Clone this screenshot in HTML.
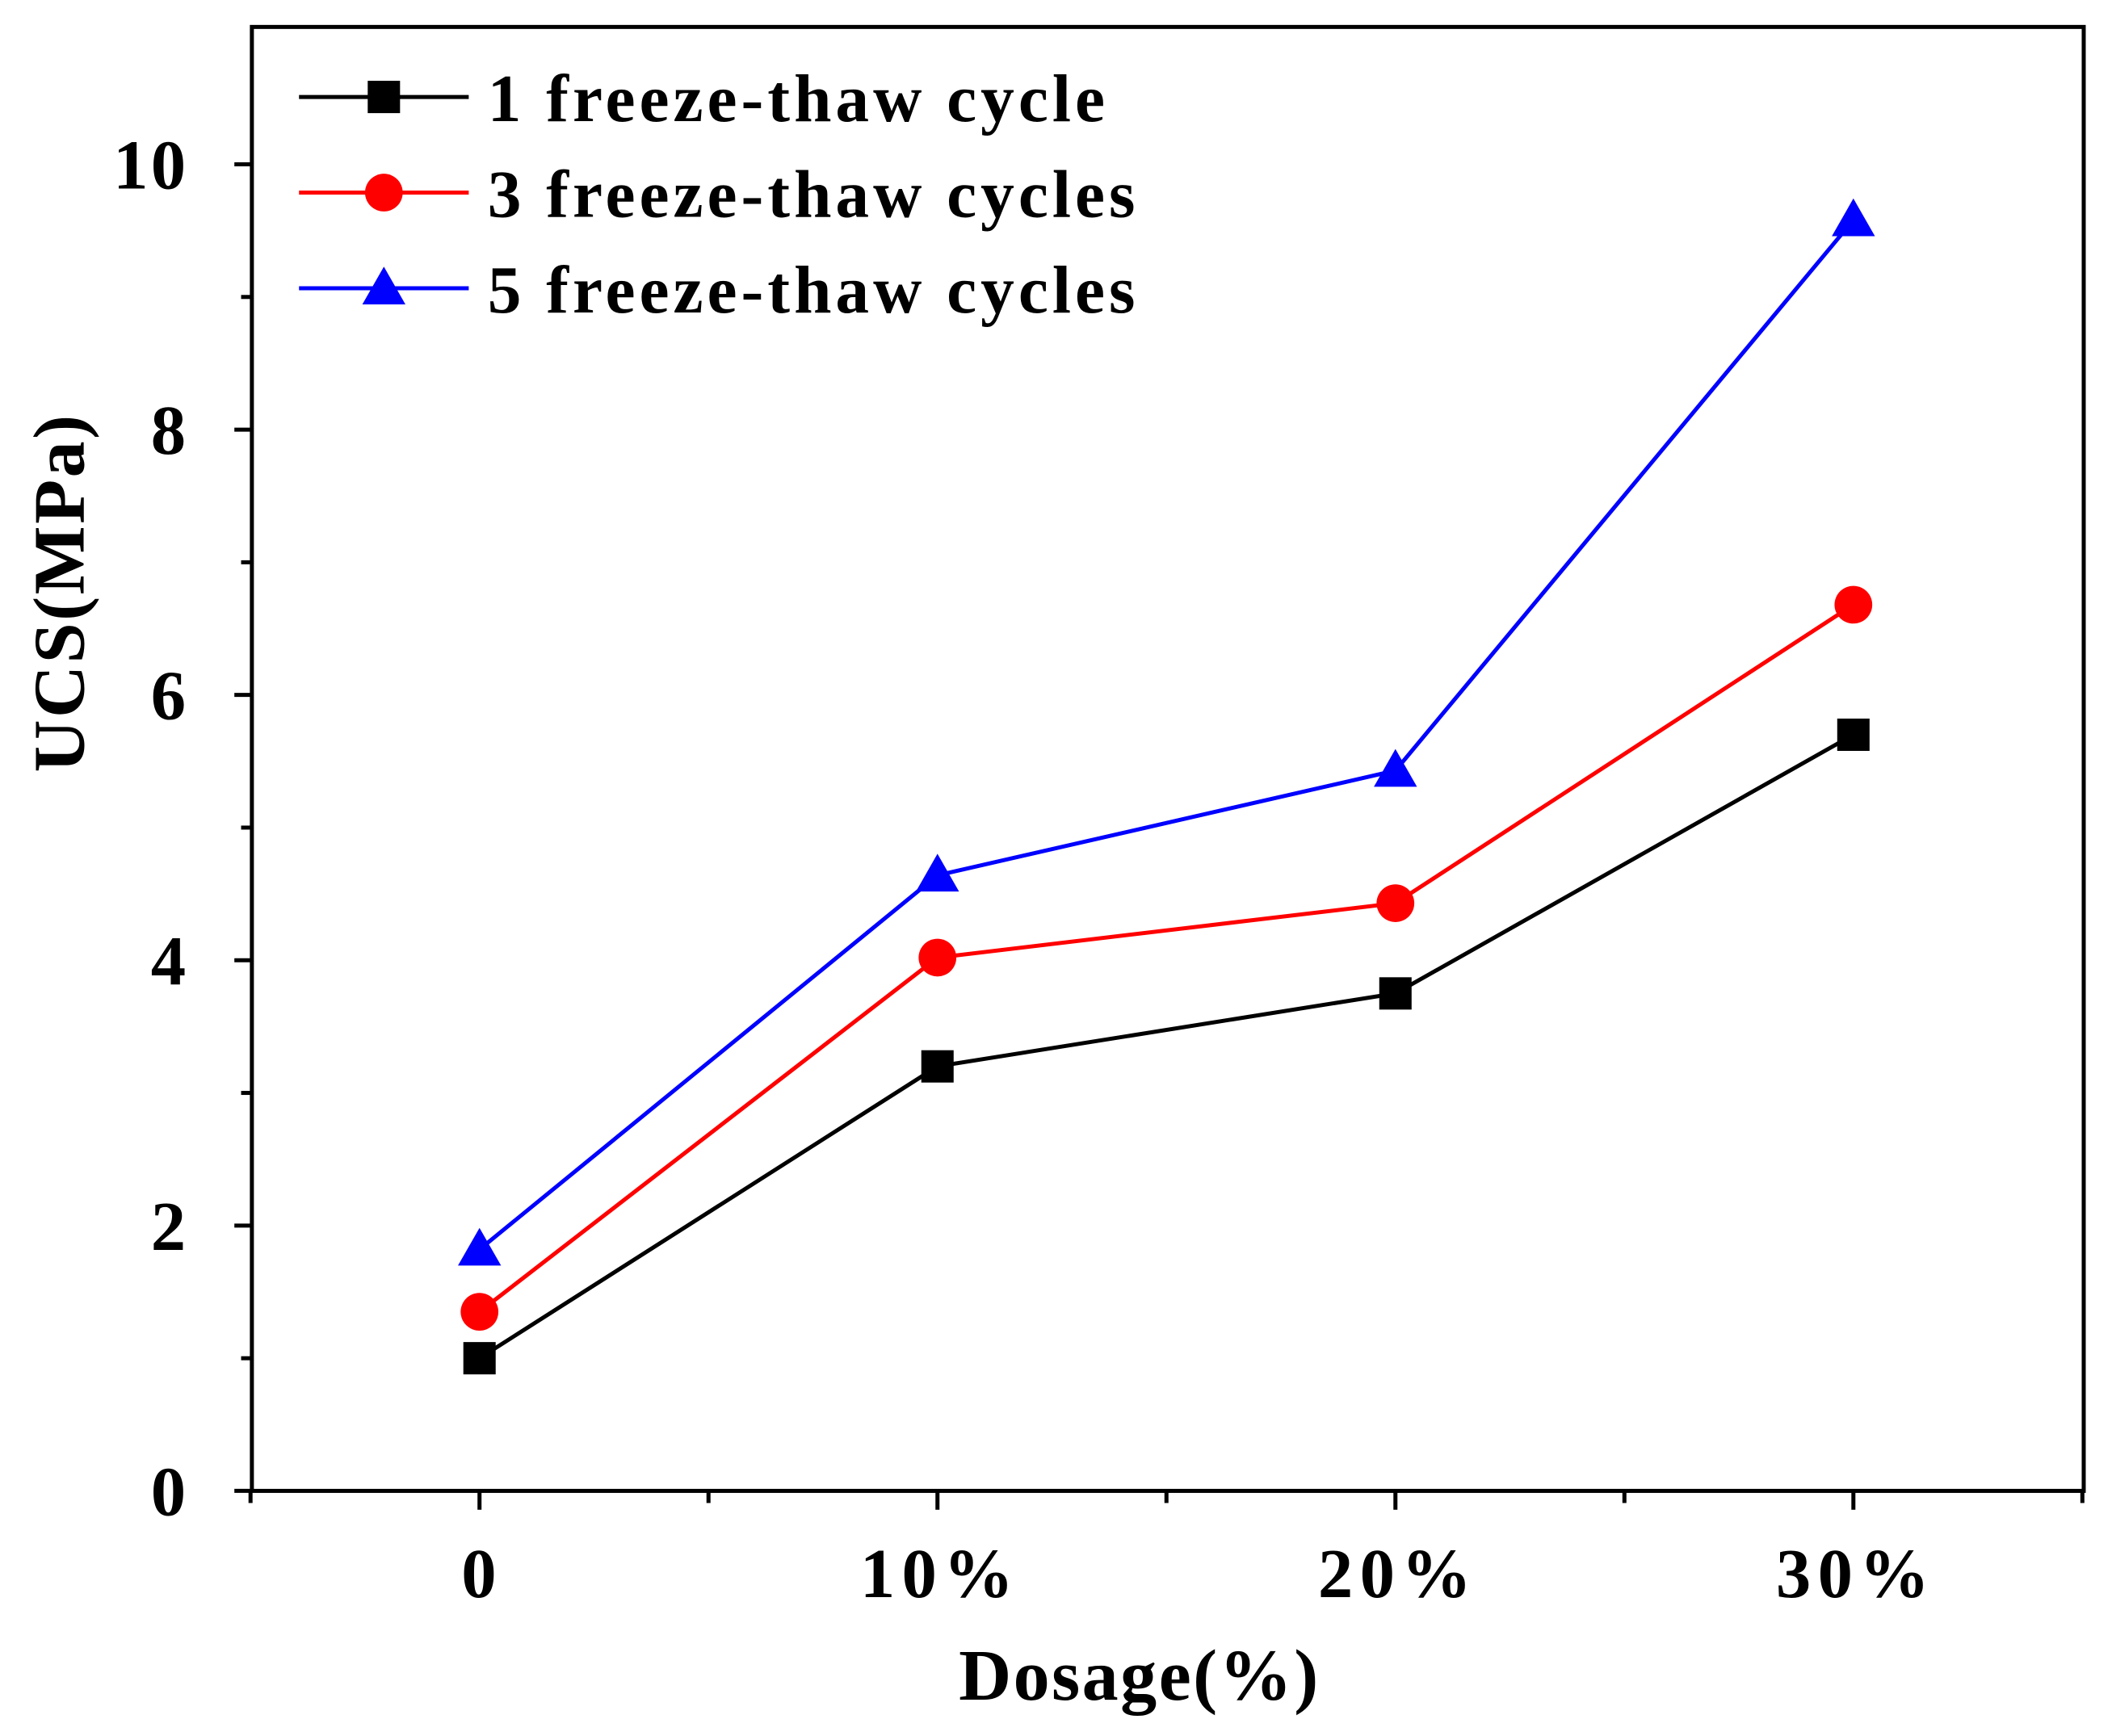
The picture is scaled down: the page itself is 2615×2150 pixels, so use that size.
<!DOCTYPE html>
<html><head><meta charset="utf-8"><style>html,body{margin:0;padding:0;background:#fff}svg{display:block}</style></head>
<body>
<svg width="2615" height="2150" viewBox="0 0 1568 1289" preserveAspectRatio="none" xmlns="http://www.w3.org/2000/svg" font-family="'Liberation Serif',serif" font-weight="bold">
<rect x="187" y="20" width="1360" height="1087" fill="none" stroke="#000" stroke-width="3"/>
<g id="axes"></g>
<g id="series"></g>
<text x="846" y="1262" font-size="54" letter-spacing="1.5" text-anchor="middle">Dosage(%)</text>
<text transform="translate(62,440) rotate(-90)" font-size="54" letter-spacing="1.5" text-anchor="middle">UCS(MPa)</text>
<g id="legend"></g>
</svg>
<script>
const categories = ["0","10%","20%","30%"];
const seriesNames = ["1 freeze-thaw cycle","3 freeze-thaw cycles","5 freeze-thaw cycles"];
const series1 = [1.0, 3.2, 3.75, 5.7];
const series3 = [1.35, 4.02, 4.43, 6.68];
const series5 = [1.82, 4.64, 5.43, 9.58];
const yTicks = [0, 2, 4, 6, 8, 10];
const colors = ["#000000", "#ff0000", "#0000ff"];
const markers = ["square", "circle", "triangle"];

const NS = "http://www.w3.org/2000/svg";
const X0 = 356, XS = 340, Y0 = 1107, YS = 98.5;
const xPos = i => X0 + i * XS;
const yPos = v => Y0 - v * YS;
function mk(tag, attrs, parent) {
  const e = document.createElementNS(NS, tag);
  for (const k in attrs) e.setAttribute(k, attrs[k]);
  parent.appendChild(e);
  return e;
}
const axes = document.getElementById("axes");
for (const t of yTicks) {
  const l = mk("line", {x1: 174, x2: 187, y1: yPos(t), y2: yPos(t), stroke: "#000", "stroke-width": 3}, axes);
  
  
  const tx = mk("text", {x: 140, y: yPos(t) + 18, "font-size": 52, "letter-spacing": 2, "text-anchor": "end"}, axes);
  tx.textContent = t;
  
  
  if (t < 10) {
    const m = mk("line", {x1: 179, x2: 187, y1: yPos(t + 1), y2: yPos(t + 1), stroke: "#000", "stroke-width": 3}, axes);
    
    
  }
}
for (let i = 0; i < categories.length; i++) {
  const l = mk("line", {x1: xPos(i), x2: xPos(i), y1: 1107, y2: 1121, stroke: "#000", "stroke-width": 3}, axes);
  
  
  const tx = mk("text", {x: xPos(i) + 2, y: 1186, "font-size": 52, "letter-spacing": 5, "text-anchor": "middle"}, axes);
  tx.textContent = categories[i];
  
  
}
for (let i = -1; i < categories.length; i++) {
  const m = mk("line", {x1: xPos(i + 0.5), x2: xPos(i + 0.5), y1: 1107, y2: 1116, stroke: "#000", "stroke-width": 3}, axes);
  
  
}
function marker(type, cx, cy, color, parent) {
  let e;
  if (type === "square") e = mk("rect", {x: cx - 12, y: cy - 12, width: 24, height: 24, fill: color}, parent);
  else if (type === "circle") e = mk("circle", {cx: cx, cy: cy, r: 14, fill: color}, parent);
  else e = mk("polygon", {points: `${cx},${cy - 16} ${cx + 16},${cy + 12} ${cx - 16},${cy + 12}`, fill: color}, parent);
  return e;
}
const allSeries = [series1, series3, series5];
const sg = document.getElementById("series");
allSeries.forEach((data, s) => {
  const pts = data.map((v, i) => xPos(i) + "," + yPos(v)).join(" ");
  const pl = mk("polyline", {points: pts, fill: "none", stroke: colors[s], "stroke-width": 3}, sg);
  
  
  data.forEach((v, i) => {
    const m = marker(markers[s], xPos(i), yPos(v), colors[s], sg);
    
    
  });
});
const lg = document.getElementById("legend");
seriesNames.forEach((name, s) => {
  const y = 72 + s * 71;
  const l = mk("line", {x1: 222, x2: 348, y1: y, y2: y, stroke: colors[s], "stroke-width": 3}, lg);
  
  
  const m = marker(markers[s], 285, y, colors[s], lg);
  
  
  const t = mk("text", {x: 362, y: y + 18, "font-size": 50, "letter-spacing": 3}, lg);
  t.textContent = name;
  
  
});
</script>
</body></html>
